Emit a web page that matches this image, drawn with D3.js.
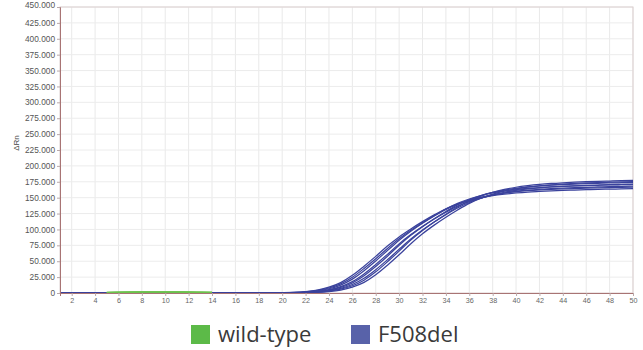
<!DOCTYPE html>
<html>
<head>
<meta charset="utf-8">
<script src="https://cdn.jsdelivr.net/npm/d3@7"></script>
<style>
  html, body { margin: 0; padding: 0; background: #fff; }
  svg { display: block; }
</style>
</head>
<body>
<svg id="chart" width="643" height="350"></svg>
<script>
// Amplification plot: ΔRn per PCR cycle
const cycles = [1,2,3,4,5,6,7,8,9,10,11,12,13,14,15,16,17,18,19,20,21,22,23,24,25,
                26,27,28,29,30,31,32,33,34,35,36,37,38,39,40,41,42,43,44,45,46,47,48,49,50];

// F508del replicate curves (ΔRn for cycles 1..50)
const f508del_1 = [400,300,200,300,100,-200,-300,-200,-300,-100,-200,0,100,200,300,200,300,200,
  290,480,960,2210,4610,9120,16300,27800,42200,57600,73900,88300,100800,112300,122900,132500,
  139700,145400,149800,153100,155500,157400,158900,159900,160800,161500,162000,162500,163000,163400,163800,164200];
const f508del_2 = [200,400,300,100,0,-300,-200,-400,-200,-300,-100,-100,200,100,200,300,200,300,
  260,430,830,1860,3950,7890,14380,24770,38510,53820,70100,85310,98570,110570,121580,131630,
  139670,145960,150780,154490,157220,159320,160920,162110,163050,163790,164400,164920,165410,165830,166220,166610];
const f508del_3 = [300,200,300,200,-100,-200,-400,-300,-300,-200,-200,100,0,300,200,100,200,300,
  240,380,700,1520,3300,6680,12500,21800,35000,50400,66800,83000,97200,109800,121400,132000,
  141000,147900,153300,157400,160500,162800,164600,165940,166960,167780,168440,169000,169500,169960,170360,170760];
const f508del_4 = [500,300,200,200,0,-100,-300,-300,-400,-200,-100,0,100,100,200,200,100,200,
  210,320,540,1110,2510,5190,10100,17930,30040,44920,60770,77320,91900,104610,116330,127070,
  136670,143910,149670,154000,157350,159770,161690,163130,164190,165060,165740,166320,166810,167290,167690,168080];
const f508del_5 = [300,300,400,200,100,-200,-200,-300,-200,-300,-100,-100,0,200,100,300,200,200,
  200,290,470,920,2080,4390,8730,15810,27130,41820,57940,75070,90780,104450,116890,128320,
  138720,146880,153310,158200,161980,164730,166870,168500,169710,170670,171420,172050,172580,173090,173520,173930];
const f508del_6 = [200,200,300,300,0,-100,-300,-200,-300,-300,-200,0,100,200,200,100,300,200,
  200,250,400,750,1660,3570,7190,13320,23120,36680,52260,68840,84920,98990,111560,123110,
  133670,142460,149240,154520,158540,161550,163820,165570,166880,167890,168690,169340,169900,170400,170850,171250];
const f508del_7 = [400,200,300,100,100,-200,-200,-300,-300,-100,-200,100,100,100,300,200,200,100,
  180,230,350,620,1310,2910,5970,11440,20180,33280,49090,65940,83200,98380,111700,123970,
  135200,145080,152570,158500,162970,166400,168900,170870,172350,173450,174350,175050,175660,176180,176680,177090];
const f508del_8 = [300,400,200,200,0,-300,-300,-200,-300,-200,-100,-100,200,200,200,200,100,200,
  170,200,300,490,980,2240,4690,9300,16740,28630,43780,60150,77560,93220,106810,119270,
  130710,141110,149090,155430,160220,163920,166600,168710,170310,171480,172430,173170,173800,174330,174840,175260];

// Wild-type traces stay flat near the baseline (visible over cycles 5..14)
const wtCycles = [5,6,7,8,9,10,11,12,13,14];
const wildtype_1 = [800,1200,1400,1500,1600,1500,1600,1400,1200,900];
const wildtype_2 = [600,1000,1200,1300,1300,1400,1300,1200,1000,700];
const wildtype_3 = [900,1300,1600,1700,1800,1800,1700,1600,1300,1000];

const xTicks = [2,4,6,8,10,12,14,16,18,20,22,24,26,28,30,32,34,36,38,40,42,44,46,48,50];
const yTicks = [0,25000,50000,75000,100000,125000,150000,175000,200000,225000,250000,
                275000,300000,325000,350000,375000,400000,425000,450000];

const legendItems = [
  { label: "wild-type", color: "#5cba48" },
  { label: "F508del",  color: "#5862a9" }
];

const mutantSeries = [f508del_1, f508del_2, f508del_3, f508del_4, f508del_5, f508del_6, f508del_7, f508del_8];
const wildSeries = [wildtype_1, wildtype_2, wildtype_3];

const svg = d3.select("#chart");
const plotLeft = 60, plotRight = 633, plotTop = 7, plotBottom = 293;

const x = d3.scaleLinear().domain([1, 50]).range([plotLeft, plotRight]);
const y = d3.scaleLinear().domain([0, 450000]).range([plotBottom, plotTop]);

const fmt = d => d === 0 ? "0" : d3.format(",")(d).replace(/,/g, ".");

// grid
const grid = svg.append("g");
grid.selectAll("line.v").data(xTicks).join("line").attr("class", "v")
  .attr("x1", d => x(d)).attr("x2", d => x(d))
  .attr("y1", plotTop).attr("y2", plotBottom)
  .attr("stroke", "#e9e9e9").attr("stroke-width", 1);
grid.selectAll("line.h").data(yTicks.slice(1)).join("line").attr("class", "h")
  .attr("x1", plotLeft).attr("x2", plotRight)
  .attr("y1", d => y(d)).attr("y2", d => y(d))
  .attr("stroke", "#ececec").attr("stroke-width", 1);

// frame
svg.append("rect")
  .attr("x", plotLeft).attr("y", plotTop)
  .attr("width", plotRight - plotLeft).attr("height", plotBottom - plotTop)
  .attr("fill", "none").attr("stroke", "#dccfcf").attr("stroke-width", 1);

// curves: mutant traces first, wild-type baseline traces on top
const line = d3.line().curve(d3.curveMonotoneX);

svg.append("g").selectAll("path").data(mutantSeries).join("path")
  .attr("d", s => line(s.map((v, i) => [x(cycles[i]), y(v)])))
  .attr("fill", "none").attr("stroke", "#3a429c").attr("stroke-width", 1.25);

svg.append("g").selectAll("path").data(wildSeries).join("path")
  .attr("d", s => line(s.map((v, i) => [x(wtCycles[i]), y(v)])))
  .attr("fill", "none").attr("stroke", "#6cc34e").attr("stroke-width", 1.4);

// axes
const yAxis = svg.append("g").attr("transform", `translate(${plotLeft},0)`)
  .call(d3.axisLeft(y).tickValues(yTicks).tickFormat(fmt).tickSize(3).tickPadding(2));
yAxis.select(".domain").attr("stroke", "#a87474");
yAxis.selectAll(".tick line").attr("stroke", "#b9a9a9");
yAxis.selectAll(".tick text")
  .attr("font-family", "'Liberation Sans', Arial, sans-serif")
  .attr("font-size", 8.3).attr("fill", "#555");
yAxis.selectAll(".tick").filter(d => d === 450000).select("text").attr("dy", "0.1em");

const xAxis = svg.append("g").attr("transform", `translate(0,${plotBottom})`)
  .call(d3.axisBottom(x).tickValues(xTicks).tickFormat(d3.format("d")).tickSize(3).tickPadding(2));
xAxis.select(".domain").attr("stroke", "#a87474");
xAxis.selectAll(".tick line").attr("stroke", "#b9a9a9");
xAxis.selectAll(".tick text")
  .attr("font-family", "'Liberation Sans', Arial, sans-serif")
  .attr("font-size", 7.2).attr("fill", "#666");

// y axis title
svg.append("text")
  .attr("transform", "translate(19,143) rotate(-90)")
  .attr("text-anchor", "middle")
  .attr("font-family", "'Liberation Sans', Arial, sans-serif")
  .attr("font-size", 8).attr("fill", "#444")
  .text("ΔRn");

// legend
const legendX = [191, 351];
const lg = svg.append("g").selectAll("g").data(legendItems).join("g")
  .attr("transform", (d, i) => `translate(${legendX[i]},325)`);
lg.append("rect").attr("width", 19).attr("height", 19).attr("fill", d => d.color);
lg.append("text")
  .attr("x", 27).attr("y", 16.5)
  .attr("font-family", "'Open Sans', sans-serif")
  .attr("font-size", 22).attr("fill", "#3a3a3a")
  .text(d => d.label);
</script>
</body>
</html>
